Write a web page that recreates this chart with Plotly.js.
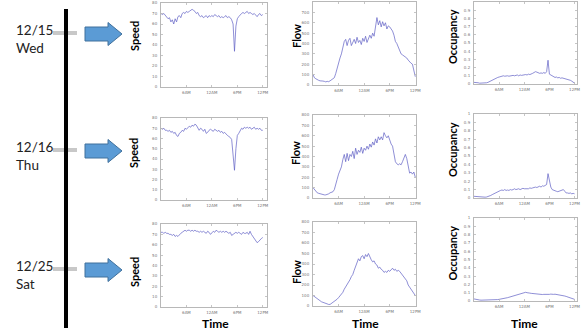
<!DOCTYPE html>
<html>
<head>
<meta charset="utf-8">
<script src="https://cdn.plot.ly/plotly-3.0.1.min.js"></script>
<style>html,body{margin:0;padding:0;background:#fff;}#chart{width:585px;height:335px;}</style>
</head>
<body>
<div id="chart"></div>
<script>
// Time slots (5-minute index, sampled every 20 minutes over the day)
const timeSlots = [0,4,8,12,16,20,24,28,32,36,40,44,48,52,56,60,64,68,72,76,80,84,88,92,96,100,104,108,112,116,120,124,128,132,136,140,144,148,152,156,160,164,168,172,176,180,184,188,192,196,200,204,208,212,216,220,224,228,232,236,240,244,248,252,256,260,264,268,272,276,280,284,288];
const xTickVals = [72,144,216,288];
const xTickText = ['6AM','12AM','6PM','12PM'];

const dayLabels = ['12/15','12/16','12/25'];
const weekdayLabels = ['Wed','Thu','Sat'];
const metricNames = ['Speed','Flow','Occupancy'];
const axisTitleX = 'Time';

const speedWed = [70,69,70,68,67,65,66,62,64,60,65,62,67,68,66,70,71,70,72,71,72,73,74,73,72,70,71,68,67,68,66,67,68,66,68,67,68,67,69,68,67,68,66,67,66,67,68,66,67,66,64,60,34,58,65,67,69,70,71,70,71,72,70,71,70,69,70,68,67,69,70,68,69];
const speedThu = [70,69,70,68,68,67,68,66,67,65,66,63,62,65,66,68,67,70,69,71,72,71,73,72,74,73,70,68,70,69,67,69,65,66,68,69,68,67,69,68,67,68,66,67,65,66,64,63,62,61,59,40,29,50,63,65,67,70,69,71,70,71,70,71,69,70,71,69,70,69,70,68,68];
const speedSat = [72,72,71,72,71,71,70,70,69,70,68,69,68,70,71,72,73,74,73,74,74,73,74,73,74,73,73,72,73,72,73,72,71,73,72,70,72,73,72,74,73,72,73,72,73,72,73,72,71,72,69,70,71,72,71,72,71,70,72,71,71,72,70,73,70,68,66,64,62,63,65,66,67];

const flowWed = [100,70,60,50,45,40,42,38,35,30,35,32,40,50,60,70,110,160,230,260,300,380,420,440,380,430,450,380,410,440,400,460,410,430,390,450,420,470,410,440,480,450,500,470,560,650,580,620,560,610,570,600,540,570,560,540,520,480,420,400,360,320,300,290,280,270,260,240,220,210,200,140,80];
const flowThu = [100,80,60,50,45,40,38,35,30,30,32,40,50,55,60,80,120,180,230,260,300,370,420,350,430,360,420,400,450,380,480,420,460,440,490,430,480,460,500,470,520,490,540,510,570,530,590,560,590,560,630,600,580,600,550,520,500,420,350,330,320,330,320,350,390,420,380,300,240,250,230,250,200];
const flowSat = [100,90,75,65,55,45,40,35,28,25,20,15,15,25,30,40,50,65,80,95,110,130,160,180,200,230,250,280,300,340,380,410,450,430,470,480,450,490,470,500,460,440,420,430,400,390,360,370,350,340,320,330,320,340,330,350,360,340,350,330,340,330,310,300,280,260,240,200,180,160,140,120,100];

const occWed = [0.02,0.02,0.015,0.015,0.01,0.01,0.01,0.01,0.012,0.015,0.02,0.03,0.04,0.05,0.06,0.065,0.07,0.08,0.085,0.09,0.095,0.1,0.095,0.1,0.1,0.095,0.1,0.1,0.105,0.1,0.105,0.11,0.1,0.11,0.105,0.11,0.11,0.115,0.11,0.12,0.115,0.12,0.13,0.14,0.15,0.145,0.14,0.13,0.135,0.13,0.14,0.13,0.15,0.29,0.12,0.11,0.1,0.09,0.08,0.085,0.075,0.08,0.07,0.075,0.07,0.065,0.06,0.06,0.05,0.045,0.035,0.025,0.01];
const occThu = [0.02,0.018,0.015,0.015,0.012,0.01,0.01,0.01,0.01,0.012,0.015,0.02,0.03,0.04,0.05,0.06,0.065,0.075,0.08,0.09,0.095,0.09,0.1,0.09,0.095,0.09,0.1,0.095,0.1,0.11,0.1,0.105,0.11,0.1,0.11,0.115,0.11,0.11,0.115,0.11,0.12,0.115,0.12,0.125,0.13,0.125,0.135,0.14,0.13,0.145,0.14,0.15,0.16,0.29,0.22,0.13,0.1,0.09,0.08,0.08,0.075,0.08,0.085,0.09,0.1,0.08,0.06,0.06,0.055,0.06,0.05,0.055,0.05];
const occSat = [0.025,0.02,0.018,0.015,0.012,0.01,0.01,0.008,0.008,0.008,0.008,0.008,0.01,0.01,0.012,0.012,0.015,0.017,0.02,0.022,0.025,0.03,0.032,0.035,0.04,0.045,0.05,0.055,0.06,0.07,0.075,0.08,0.085,0.09,0.095,0.1,0.098,0.105,0.1,0.102,0.095,0.092,0.09,0.088,0.085,0.082,0.08,0.078,0.075,0.078,0.08,0.078,0.08,0.082,0.08,0.083,0.078,0.08,0.082,0.08,0.078,0.075,0.072,0.07,0.068,0.06,0.055,0.05,0.045,0.04,0.03,0.025,0.02];

const W = 585, H = 335;
const px = x => x / W;
const py = y => 1 - y / H;

const series = [
  [speedWed, flowWed, occWed],
  [speedThu, flowThu, occThu],
  [speedSat, flowSat, occSat]
];
// pixel boxes [left,right] per column, [top,bottom] per row/column
const colX = [[161,267],[313,416],[474,577]];
const rowY = [
  [[3,87],[2,85],[2,84]],
  [[118,200],[115,198],[114,198]],
  [[224,307],[222,306],[218,301]]
];
const yRanges = [[0,80],[0,800],[0,1]];
const yDticks = [10,100,0.1];
const xRanges = [[0,300],[0,290],[0,295]];

const traces = [];
const layout = {
  width: W, height: H,
  margin: {l:0, r:0, t:0, b:0},
  paper_bgcolor: '#fff', plot_bgcolor: '#fff',
  showlegend: false,
  shapes: [], annotations: []
};
const axStyle = {
  showline: true, linecolor: '#b8b8b8', linewidth: 1, mirror: 'allticks',
  ticks: 'inside', ticklen: 2, tickcolor: '#b8b8b8', tickwidth: 0.8,
  showgrid: false, zeroline: false, fixedrange: true,
  tickfont: {size: 4, color: '#777', family: 'DejaVu Sans'}
};

let n = 0;
for (let r = 0; r < 3; r++) {
  for (let c = 0; c < 3; c++) {
    n++;
    const xa = n === 1 ? 'xaxis' : 'xaxis' + n;
    const ya = n === 1 ? 'yaxis' : 'yaxis' + n;
    traces.push({
      x: timeSlots, y: series[r][c], type: 'scatter', mode: 'lines',
      line: {color: '#5f5fc4', width: 0.7},
      xaxis: 'x' + (n === 1 ? '' : n), yaxis: 'y' + (n === 1 ? '' : n),
      hoverinfo: 'skip'
    });
    layout[xa] = Object.assign({}, axStyle, {
      domain: [px(colX[c][0]), px(colX[c][1])],
      range: xRanges[c], anchor: 'y' + (n === 1 ? '' : n),
      tickmode: 'array', tickvals: xTickVals, ticktext: xTickText, ticklabelstandoff: 1
    });
    layout[ya] = Object.assign({}, axStyle, {
      domain: [py(rowY[r][c][1]), py(rowY[r][c][0])],
      range: yRanges[c], anchor: 'x' + (n === 1 ? '' : n),
      tickmode: 'linear', tick0: 0, dtick: yDticks[c], ticklabelstandoff: 2
    });
  }
}

// timeline (left)
layout.shapes.push({type:'line', xref:'paper', yref:'paper', x0:px(66), x1:px(66), y0:py(9), y1:py(328), line:{color:'#000', width:4}});
const rowCenters = [34, 151, 270];
const tickY = [33, 150, 269];
const labelFont = {family: 'Lato, "Open Sans", sans-serif', size: 13.5, color: '#222'};
const boldFont = {family: 'Lato, "Liberation Sans", sans-serif', size: 11, color: '#000'};
for (let r = 0; r < 3; r++) {
  layout.shapes.push({type:'line', xref:'paper', yref:'paper', x0:px(53), x1:px(77), y0:py(tickY[r]), y1:py(tickY[r]), line:{color:'#c8c8c8', width:4}, layer:'below'});
  const cy = rowCenters[r];
  const path = 'M' + px(85) + ',' + py(cy-7) + ' L' + px(108) + ',' + py(cy-7) + ' L' + px(108) + ',' + py(cy-11.5) +
    ' L' + px(122) + ',' + py(cy) + ' L' + px(108) + ',' + py(cy+11.5) + ' L' + px(108) + ',' + py(cy+7) +
    ' L' + px(85) + ',' + py(cy+7) + ' Z';
  layout.shapes.push({type:'path', xref:'paper', yref:'paper', path: path, fillcolor:'#5b9bd5', line:{color:'#41719c', width:1}});
  layout.annotations.push({text: dayLabels[r] + '<br>' + weekdayLabels[r], xref:'paper', yref:'paper', x: px(14), y: py(cy + 5), xanchor:'left', yanchor:'middle', align:'left', showarrow:false, font: labelFont});
}
// axis labels
const metricLabelX = [134, 296, 452];
for (let r = 0; r < 3; r++) {
  for (let c = 0; c < 3; c++) {
    const yc = (rowY[r][c][0] + rowY[r][c][1]) / 2 - 6;
    layout.annotations.push({text: '<b>' + metricNames[c] + '</b>', xref:'paper', yref:'paper', x: px(metricLabelX[c]), y: py(c === 2 ? yc : rowCenters[r] + 2), textangle: -90, xanchor:'center', yanchor:'middle', showarrow:false, font: boldFont});
  }
}
const timeX = [215, 365, 524];
for (let c = 0; c < 3; c++) {
  layout.annotations.push({text: '<b>' + axisTitleX + '</b>', xref:'paper', yref:'paper', x: px(timeX[c]), y: py(323), xanchor:'center', yanchor:'middle', showarrow:false, font: {family: boldFont.family, size: 12, color: '#000'}});
}

Plotly.newPlot('chart', traces, layout, {staticPlot: true, displayModeBar: false});
</script>
</body>
</html>
